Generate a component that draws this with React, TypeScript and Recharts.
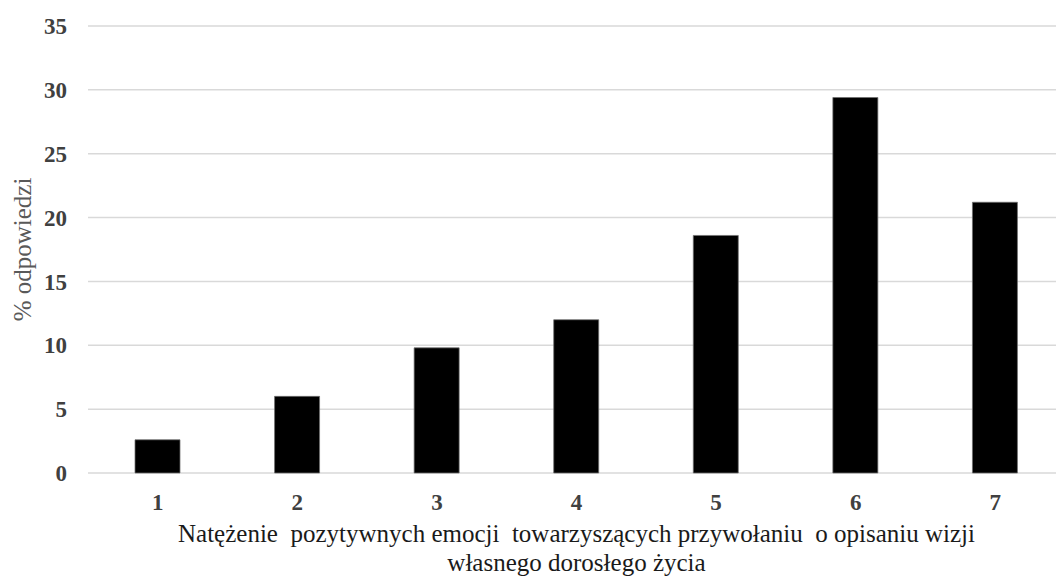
import { Bar, BarChart, CartesianGrid, Label, XAxis, YAxis } from "recharts";

const categories = ["1", "2", "3", "4", "5", "6", "7"];
const percentValues = [2.6, 6.0, 9.8, 12.0, 18.6, 29.4, 21.2];
const yTicks = [0, 5, 10, 15, 20, 25, 30, 35];

const xTitleLines = [
  "Natężenie  pozytywnych emocji  towarzyszących przywołaniu  o opisaniu wizji",
  "własnego dorosłego życia",
];
const yTitle = "% odpowiedzi";

const data = categories.map((c, i) => ({ level: c, value: percentValues[i] }));

const serif = "'Liberation Serif', 'Times New Roman', serif";

function XTitle(props: any) {
  const vb = props.viewBox || {};
  const cx = vb.x + vb.width / 2;
  return (
    <g>
      {xTitleLines.map((line, i) => (
        <text
          key={i}
          x={cx}
          y={vb.y + 69 + i * 29}
          textAnchor="middle"
          fontFamily={serif}
          fontSize={25}
          fill="#1a1a1a"
          style={{ whiteSpace: "pre" }}
        >
          {line}
        </text>
      ))}
    </g>
  );
}

function YTitle(props: any) {
  const vb = props.viewBox || {};
  const cy = vb.y + vb.height / 2;
  const x = 22;
  return (
    <text
      x={x}
      y={cy}
      transform={`rotate(-90 ${x} ${cy})`}
      textAnchor="middle"
      dominantBaseline="central"
      fontFamily={serif}
      fontSize={25}
      fill="#595959"
    >
      {yTitle}
    </text>
  );
}

export default function App() {
  return (
    <div style={{ position: "absolute", left: 0, top: 0, width: 1056, height: 580, overflow: "hidden", background: "#fff" }}>
      <BarChart width={1065} height={580} data={data} margin={{ top: 26, right: 0, left: 0, bottom: 0 }}>
        <CartesianGrid vertical={false} stroke="#d9d9d9" strokeWidth={1.5} />
        <XAxis
          dataKey="level"
          height={107}
          axisLine={false}
          tickLine={false}
          tickSize={0}
          tickMargin={21}
          tick={{ fontSize: 23, fontWeight: "bold", fill: "#404040", fontFamily: serif }}
        >
          <Label content={<XTitle />} />
        </XAxis>
        <YAxis
          width={88}
          domain={[0, 35]}
          ticks={yTicks}
          interval={0}
          axisLine={false}
          tickLine={false}
          tickSize={0}
          tickMargin={21}
          tick={{ fontSize: 23, fontWeight: "bold", fill: "#404040", fontFamily: serif }}
        >
          <Label content={<YTitle />} />
        </YAxis>
        <Bar dataKey="value" fill="#000" stroke="#6f6f6f" strokeWidth={0.75} barSize={45} isAnimationActive={false} />
      </BarChart>
    </div>
  );
}
